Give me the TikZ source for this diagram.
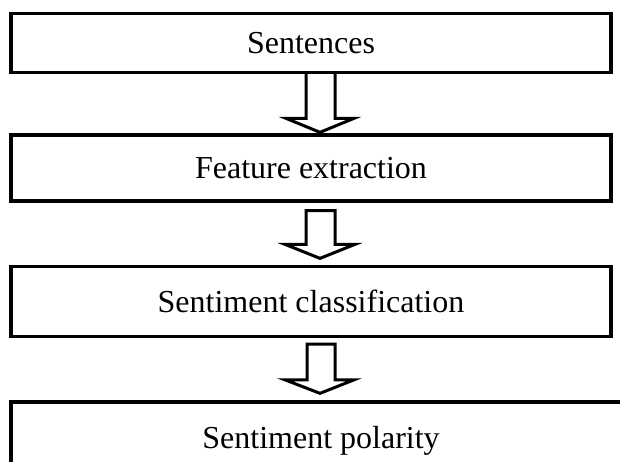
\documentclass[tikz,border=0pt]{standalone}
\usepackage{fontspec}
\setmainfont{Liberation Serif}
\usetikzlibrary{calc}
\begin{document}
\begin{tikzpicture}[x=1pt,y=1pt,
  stagebox/.style={draw=black, line width=3.3pt, fill=white, inner sep=0pt,
    minimum width=600pt, text depth=0pt, font=\fontsize{32}{36}\selectfont},
  hollow/.style={draw=black, line width=3pt, fill=white, line join=miter}]
\useasboundingbox (0,0) rectangle (620,462);
\clip (0,0) rectangle (620,462);
\node[stagebox, minimum height=59pt] (b1) at (311,419) {Sentences};
\node[stagebox, minimum height=66pt] (b2) at (311,294) {Feature extraction};
\node[stagebox, minimum height=70pt] (b3) at (311,160.5) {Sentiment classification};
\node[stagebox, minimum height=70pt, minimum width=620pt] (b4) at (321,25) {Sentiment polarity};
\draw[hollow] let \p1=(b1.south), \p2=(b2.north) in
  (\x1-5pt,\y1) -- (\x1-5pt,\y2+15pt) -- (\x1-25pt,\y2+15pt) -- (\x1+9pt,\y2+1pt)
  -- (\x1+43pt,\y2+15pt) -- (\x1+24pt,\y2+15pt) -- (\x1+24pt,\y1);
\draw[hollow] let \p1=(b2.south), \p2=(b3.north) in
  (\x1-5pt,\y1-8pt) -- (\x1-5pt,\y2+20.5pt) -- (\x1-26pt,\y2+20.5pt) -- (\x1+9pt,\y2+6.5pt)
  -- (\x1+44pt,\y2+20.5pt) -- (\x1+24pt,\y2+20.5pt) -- (\x1+24pt,\y1-8pt) -- cycle;
\draw[hollow] let \p1=(b3.south), \p2=(b4.north) in
  (\x1-4pt,\y1-6pt) -- (\x1-4pt,\y2+20.5pt) -- (\x1-26pt,\y2+20.5pt) -- (\x1+9pt,\y2+7pt)
  -- (\x1+43pt,\y2+20.5pt) -- (\x1+24pt,\y2+20.5pt) -- (\x1+24pt,\y1-6pt) -- cycle;
\end{tikzpicture}
\end{document}
